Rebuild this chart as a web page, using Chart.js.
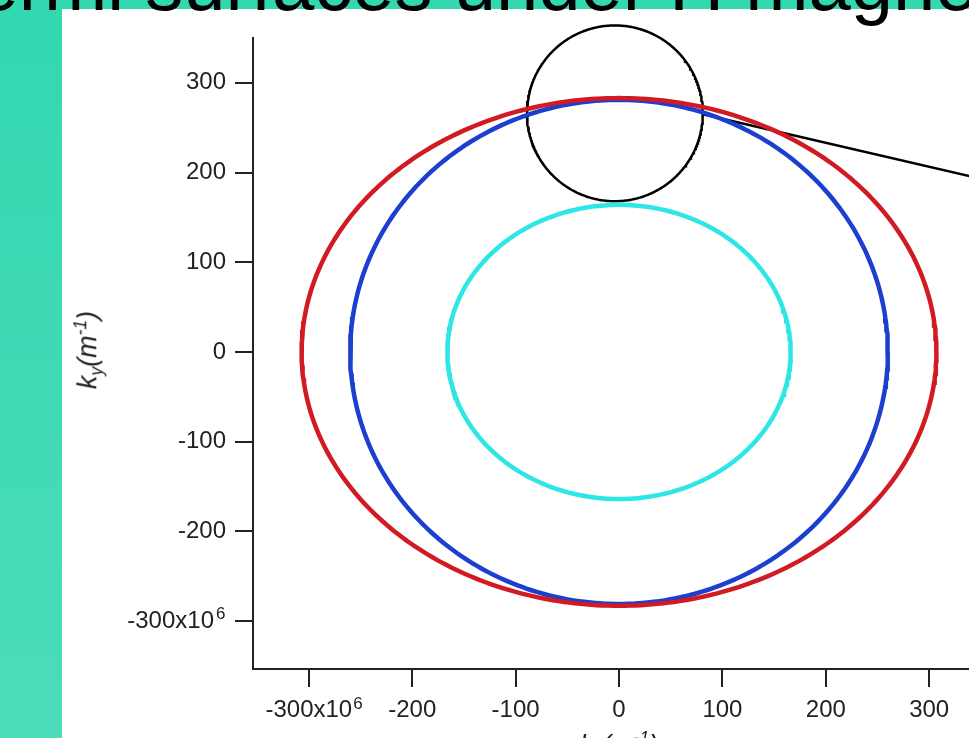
<!DOCTYPE html>
<html>
<head>
<meta charset="utf-8">
<script src="https://cdn.jsdelivr.net/npm/chart.js@4.4.1/dist/chart.umd.min.js"></script>
<style>
  html, body { margin: 0; padding: 0; width: 969px; height: 738px; overflow: hidden; background: #fff; font-family: "Liberation Sans", Arial, sans-serif; }
  #leftbar { position: absolute; left: 0; top: 0; width: 62px; height: 738px; background: linear-gradient(#33d8b0, #4cdcba); }
  #topbar { position: absolute; left: 0; top: 0; width: 969px; height: 9px; background: #33d8b0; }
  #chart { position: absolute; left: 0; top: 0; }
  #title { position: absolute; left: -70px; top: -54px; font-size: 76px; line-height: 76px; white-space: nowrap; color: #000; }
  .axis-title { position: absolute; font-style: italic; font-size: 27px; line-height: 27px; color: #222; white-space: nowrap; }
  .axis-title sub, .axis-title sup { font-size: 65%; }
  #ytitle { left: 89px; top: 350px; transform: translate(-50%, -50%) rotate(-90deg); }
  #xtitle { left: 619px; top: 725px; transform: translateX(-50%); }
</style>
</head>
<body>
<div id="leftbar"></div>
<div id="topbar"></div>
<canvas id="chart" width="969" height="738"></canvas>
<div id="title">Fermi surfaces under H magnetic field</div>
<div class="axis-title" id="ytitle">k<sub>y</sub>(m<sup>-1</sup>)</div>
<div class="axis-title" id="xtitle">k<sub>x</sub>(m<sup>-1</sup>)</div>
<script>
// Fermi surface sheets, semi-axes in units of 10^6 m^-1
const surfaceNames = ['outer sheet', 'middle sheet', 'inner sheet'];
const surfaceKx = [307, 260, 166];
const surfaceKy = [283, 281, 164];
const surfaceColors = ['#d11a22', '#1c3fcf', '#2ee6e6'];

// magnifier circle and its leader line
const calloutCenter = [-4, 266];
const calloutRadius = [85, 98];
const leaderKx = [81, 345];
const leaderKy = [265, 194.5];

const xTicks = [-300, -200, -100, 0, 100, 200, 300];
const xTickLabels = ['-300x10', '-200', '-100', '0', '100', '200', '300'];
const xTickExponents = ['6', '', '', '', '', '', ''];
const yTicks = [-300, -200, -100, 0, 100, 200, 300];
const yTickLabels = ['-300x10', '-200', '-100', '0', '100', '200', '300'];
const yTickExponents = ['6', '', '', '', '', '', ''];

const FONT = '"Liberation Sans", Arial, sans-serif';
const tickFont = { family: FONT, size: 24 };

function ellipse(cx, cy, rx, ry) {
  const pts = [];
  for (let a = 0; a <= 360; a += 1) {
    const t = a * Math.PI / 180;
    pts.push({ x: cx + rx * Math.cos(t), y: cy + ry * Math.sin(t) });
  }
  return pts;
}

const datasets = surfaceNames.map((name, i) => ({
  label: name,
  data: ellipse(0, 0, surfaceKx[i], surfaceKy[i]),
  borderColor: surfaceColors[i],
  borderWidth: 4.5,
}));

datasets.push({
  label: 'callout',
  data: ellipse(calloutCenter[0], calloutCenter[1], calloutRadius[0], calloutRadius[1]),
  borderColor: '#000',
  borderWidth: 2.5,
  clip: false,
});
datasets.push({
  label: 'leader',
  data: leaderKx.map((x, i) => ({ x: x, y: leaderKy[i] })),
  borderColor: '#000',
  borderWidth: 2.5,
  clip: false,
});

// draws the x10^6 exponent next to the tick labels that carry one
const exponentPlugin = {
  id: 'exponent',
  afterDraw(chart) {
    const ctx = chart.ctx;
    ctx.save();
    ctx.fillStyle = '#222';
    ctx.textAlign = 'left';
    ctx.textBaseline = 'alphabetic';
    const xs = chart.scales.x;
    xs.ticks.forEach((t) => {
      const i = xTicks.indexOf(t.value);
      if (!xTickExponents[i]) return;
      ctx.font = '24px ' + FONT;
      const w = ctx.measureText(xTickLabels[i]).width;
      const digitTop = xs.top + 18 + 9 + 14.4 - 8.6;
      ctx.font = '17px ' + FONT;
      ctx.fillText(xTickExponents[i], xs.getPixelForValue(t.value) + w / 2 + 1, digitTop + 7);
    });
    const ys = chart.scales.y;
    ys.ticks.forEach((t) => {
      const i = yTicks.indexOf(t.value);
      if (!yTickExponents[i]) return;
      const digitTop = ys.getPixelForValue(t.value) - 8.6;
      ctx.font = '17px ' + FONT;
      ctx.fillText(yTickExponents[i], ys.right - 18 - 9 - 10, digitTop + 7);
    });
    ctx.restore();
  },
};

new Chart(document.getElementById('chart'), {
  type: 'scatter',
  data: { datasets: datasets },
  plugins: [exponentPlugin],
  options: {
    responsive: false,
    animation: false,
    showLine: true,
    layout: { padding: { top: 38, right: 0, left: 0, bottom: 0 } },
    elements: { point: { radius: 0, hoverRadius: 0 }, line: { tension: 0 } },
    plugins: { legend: { display: false }, tooltip: { enabled: false } },
    scales: {
      x: {
        type: 'linear',
        min: -354,
        max: 338.5,
        afterFit: (s) => { s.height = 69; },
        afterBuildTicks: (s) => { s.ticks = xTicks.map(v => ({ value: v })); },
        ticks: {
          callback: (v) => xTickLabels[xTicks.indexOf(v)],
          font: tickFont,
          color: '#222',
          padding: 9,
          maxRotation: 0,
          autoSkip: false,
        },
        grid: { drawOnChartArea: false, tickLength: 18, color: '#222', lineWidth: 2 },
        border: { color: '#222', width: 2 },
      },
      y: {
        type: 'linear',
        min: -353.5,
        max: 350,
        afterFit: (s) => { s.width = 253; },
        afterBuildTicks: (s) => { s.ticks = yTicks.map(v => ({ value: v })); },
        ticks: {
          // leave room on the right for the exponent
          callback: (v) => {
            const i = yTicks.indexOf(v);
            return yTickExponents[i] ? yTickLabels[i] + '\u2002' : yTickLabels[i];
          },
          font: tickFont,
          color: '#222',
          padding: 9,
          autoSkip: false,
        },
        grid: { drawOnChartArea: false, tickLength: 18, color: '#222', lineWidth: 2 },
        border: { color: '#222', width: 2 },
      },
    },
  },
});
</script>
</body>
</html>
